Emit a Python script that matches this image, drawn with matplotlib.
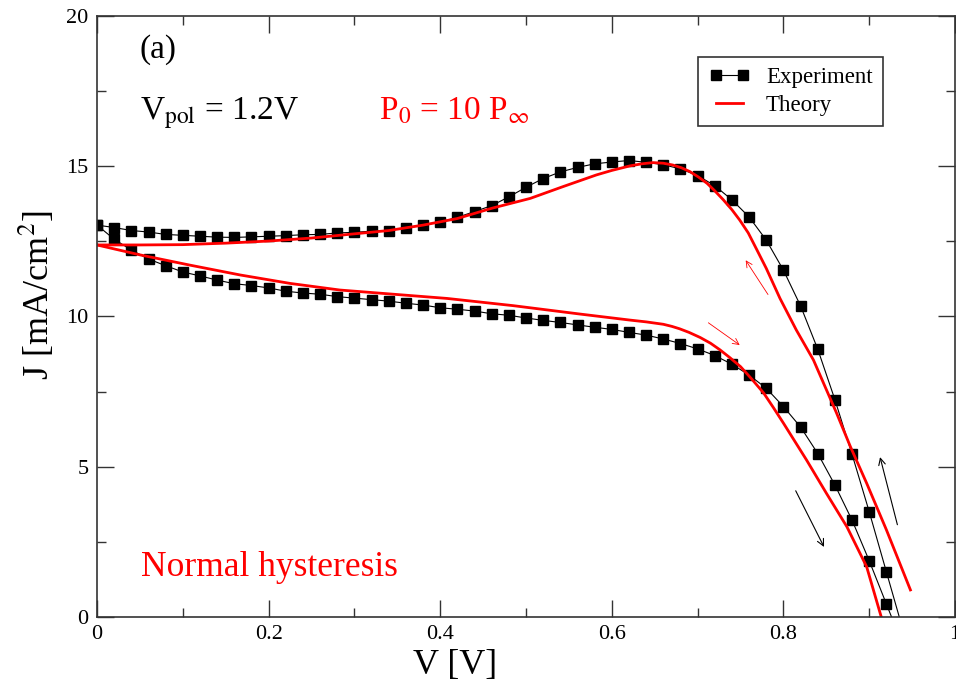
import matplotlib
matplotlib.use('Agg')
import matplotlib.pyplot as plt
from matplotlib.lines import Line2D
from matplotlib.ticker import MultipleLocator

plt.rcParams['font.family'] = ['Liberation Serif', 'DejaVu Serif']
plt.rcParams['mathtext.fontset'] = 'stix'

# ── Data ───────────────────────────────────────────────────────────────────────
V_EXP = [0.00, 0.02, 0.04, 0.06, 0.08, 0.10, 0.12, 0.14, 0.16, 0.18,
         0.20, 0.22, 0.24, 0.26, 0.28, 0.30, 0.32, 0.34, 0.36, 0.38,
         0.40, 0.42, 0.44, 0.46, 0.48, 0.50, 0.52, 0.54, 0.56, 0.58,
         0.60, 0.62, 0.64, 0.66, 0.68, 0.70, 0.72, 0.74, 0.76, 0.78,
         0.80, 0.82, 0.84, 0.86, 0.88, 0.90, 0.92, 0.94]

J_EXP_UP = [13.04, 12.96, 12.86, 12.81, 12.73, 12.70, 12.67, 12.64, 12.63, 12.65,
            12.67, 12.69, 12.72, 12.73, 12.78, 12.80, 12.84, 12.86, 12.94, 13.04,
            13.14, 13.30, 13.49, 13.69, 13.98, 14.30, 14.59, 14.81, 14.96, 15.08,
            15.14, 15.19, 15.13, 15.05, 14.91, 14.69, 14.35, 13.88, 13.31, 12.54,
            11.54, 10.35, 8.91, 7.23, 5.41, 3.50, 1.50, -0.50]

J_EXP_DOWN = [13.04, 12.57, 12.21, 11.91, 11.69, 11.48, 11.35, 11.21, 11.09, 11.03,
              10.95, 10.84, 10.78, 10.74, 10.66, 10.61, 10.56, 10.51, 10.44, 10.38,
              10.29, 10.24, 10.18, 10.09, 10.04, 9.95, 9.87, 9.80, 9.72, 9.64,
              9.57, 9.47, 9.38, 9.25, 9.10, 8.92, 8.70, 8.41, 8.05, 7.61,
              7.00, 6.32, 5.44, 4.39, 3.22, 1.87, 0.43, -1.00]

V_TH_UP = [0.00, 0.05, 0.10, 0.15, 0.20, 0.25, 0.30, 0.34, 0.38, 0.42,
           0.46, 0.505, 0.543, 0.582, 0.60, 0.621, 0.635, 0.648, 0.660, 0.671,
           0.681, 0.691, 0.701, 0.711, 0.720, 0.730, 0.740, 0.749, 0.759, 0.769,
           0.780, 0.796, 0.815, 0.835, 0.862, 0.878, 0.897, 0.920, 0.948]
J_TH_UP = [12.38, 12.38, 12.39, 12.44, 12.51, 12.61, 12.75, 12.86, 13.04, 13.26,
           13.60, 13.93, 14.32, 14.71, 14.86, 15.01, 15.08, 15.12, 15.10, 15.04,
           14.95, 14.82, 14.64, 14.43, 14.18, 13.88, 13.55, 13.21, 12.78, 12.22,
           11.60, 10.60, 9.55, 8.55, 6.78, 5.67, 4.45, 2.90, 0.90]

V_TH_DOWN = [0.00, 0.05, 0.108, 0.167, 0.225, 0.283, 0.341, 0.408, 0.485, 0.563,
             0.621, 0.640, 0.660, 0.670, 0.679, 0.690, 0.703, 0.715, 0.726, 0.738,
             0.750, 0.763, 0.777, 0.788, 0.800, 0.827, 0.850, 0.874, 0.897, 0.914,
             0.920]
J_TH_DOWN = [12.38, 12.05, 11.71, 11.38, 11.10, 10.88, 10.75, 10.60, 10.36, 10.08,
             9.88, 9.82, 9.74, 9.67, 9.59, 9.47, 9.30, 9.11, 8.89, 8.62,
             8.33, 7.92, 7.45, 6.98, 6.45, 5.22, 4.12, 3.00, 1.67, 0.00,
             -0.40]

# scan-direction arrows: (start, end) in data coords
RED_ARROWS = [((0.782, 10.73), (0.756, 11.87)),
              ((0.7125, 9.79), (0.749, 9.05))]
BLACK_ARROWS = [((0.8143, 4.20), (0.8473, 2.33)),
                ((0.9328, 3.07), (0.9126, 5.32))]

RED = '#ff0000'

# ── Plot ───────────────────────────────────────────────────────────────────────
fig = plt.figure(figsize=(9.56, 6.85), dpi=100)
ax = fig.add_axes([0.1015, 0.0993, 0.8975, 0.8774])

exp_style = dict(color='black', lw=0.8, marker='s', markersize=6.5,
                 markerfacecolor='black', markeredgecolor='black')
ax.plot(V_EXP, J_EXP_UP, **exp_style)
ax.plot(V_EXP, J_EXP_DOWN, **exp_style)
ax.plot(V_TH_UP, J_TH_UP, color=RED, lw=2.0)
ax.plot(V_TH_DOWN, J_TH_DOWN, color=RED, lw=2.0)

for (x0, y0), (x1, y1) in RED_ARROWS:
    ax.annotate('', xy=(x1, y1), xytext=(x0, y0),
                arrowprops=dict(arrowstyle='->', color=RED, lw=0.6,
                                shrinkA=0, shrinkB=0, mutation_scale=11))
for (x0, y0), (x1, y1) in BLACK_ARROWS:
    ax.annotate('', xy=(x1, y1), xytext=(x0, y0),
                arrowprops=dict(arrowstyle='->', color='black', lw=0.8,
                                shrinkA=0, shrinkB=0, mutation_scale=12))

ax.set_xlim(0, 1)
ax.set_ylim(0, 20)
ax.xaxis.set_major_locator(MultipleLocator(0.2))
ax.xaxis.set_minor_locator(MultipleLocator(0.1))
ax.yaxis.set_major_locator(MultipleLocator(5))
ax.yaxis.set_minor_locator(MultipleLocator(2.5))
ax.set_xticks([0, 0.2, 0.4, 0.6, 0.8, 1.0])
ax.set_xticklabels(['0', '0.2', '0.4', '0.6', '0.8', '1'])
ax.tick_params(which='both', direction='in', top=True, right=True,
               labelsize=16, width=1.0, color='#333333')
ax.tick_params(which='major', length=12, pad=6)
ax.tick_params(which='minor', length=6.5)
for sp in ax.spines.values():
    sp.set_linewidth(1.2)
    sp.set_color('#333333')

ax.set_xlabel('V [V]', fontsize=26)
ax.xaxis.set_label_coords(0.417, -0.053)
ax.set_ylabel(r'J [mA/cm$^{\mathrm{2}}$]', fontsize=26)
ax.yaxis.set_label_coords(-0.047, 0.536)

ax.text(0.05, 18.6, '(a)', fontsize=24)
ax.text(0.05, 16.55, r'V$_{\mathrm{pol}}$ = 1.2V', fontsize=24)
ax.text(0.329, 16.57, r'P$_{\mathrm{0}}$ = 10 P$_{\infty}$', fontsize=24, color=RED)
ax.text(0.051, 1.37, 'Normal hysteresis', fontsize=25.5, color=RED)

handles = [Line2D([], [], **exp_style),
           Line2D([], [], color=RED, lw=2.0)]
leg = ax.legend(handles, ['Experiment', 'Theory'], loc='upper right',
                bbox_to_anchor=(0.916, 0.932), borderaxespad=0,
                fontsize=16.5, numpoints=2, handlelength=1.8,
                handletextpad=0.7, borderpad=0.45, labelspacing=0.3,
                fancybox=False, framealpha=1)
leg.get_frame().set_edgecolor('#333333')
leg.get_frame().set_linewidth(1.2)

fig.savefig('out.png', dpi=100)
